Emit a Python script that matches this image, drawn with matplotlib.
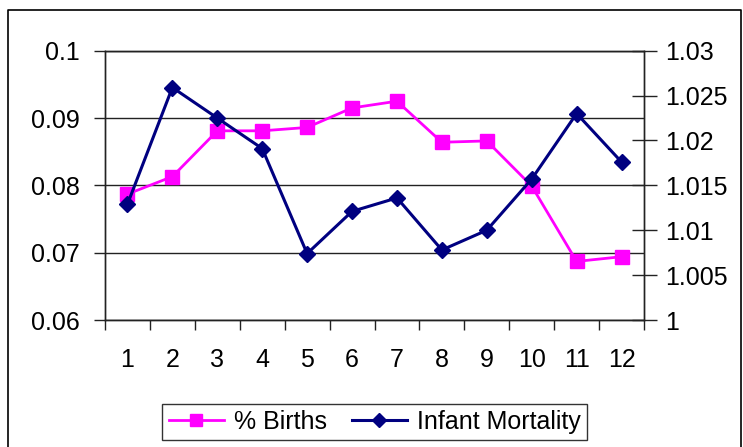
import matplotlib
matplotlib.use("Agg")
import matplotlib.pyplot as plt
from matplotlib.lines import Line2D

months = [1, 2, 3, 4, 5, 6, 7, 8, 9, 10, 11, 12]
births = [0.0787, 0.0813, 0.0881, 0.0881, 0.0886, 0.0915, 0.0925, 0.0864, 0.0866, 0.0799, 0.0687, 0.0694]
mortality = [1.0129, 1.0259, 1.0225, 1.0191, 1.0074, 1.0121, 1.0136, 1.0078, 1.0100, 1.0157, 1.0230, 1.0176]
left_ticks = [0.06, 0.07, 0.08, 0.09, 0.1]
left_labels = ["0.06", "0.07", "0.08", "0.09", "0.1"]
right_ticks = [1, 1.005, 1.01, 1.015, 1.02, 1.025, 1.03]
right_labels = ["1", "1.005", "1.01", "1.015", "1.02", "1.025", "1.03"]

plt.rcParams['font.family'] = ['Liberation Sans', 'DejaVu Sans']
fs = 18

fig = plt.figure(figsize=(7.43, 4.47), dpi=100)
ax = fig.add_axes([105 / 743, 1 - 320 / 447, 539 / 743, (320 - 50.7) / 447])
ax2 = ax.twinx()

ax.plot(months, births, color="#FF00FF", lw=2, marker="s", ms=10, mec="#FF00FF", label="% Births")
ax2.plot(months, mortality, color="#000080", lw=2.2, marker="D", ms=8.5, mec="#000080", label="Infant Mortality")

ax.set_xlim(0.5, 12.5)
ax.set_ylim(0.06, 0.1)
ax2.set_ylim(1, 1.03)

ax.set_yticks(left_ticks)
ax.set_yticklabels(left_labels, fontsize=fs)
ax2.set_yticks(right_ticks)
ax2.set_yticklabels(right_labels, fontsize=fs)

# category labels centered, ticks at boundaries
ax.set_xticks(months)
ax.set_xticklabels([str(m) for m in months], fontsize=fs)
ax.tick_params(axis="x", which="major", length=0, pad=20)
ax.set_xticks([m + 0.5 for m in [0] + months], minor=True)
ax.tick_params(axis="x", which="minor", length=7, width=1, direction="out", color="#222222")

ax.tick_params(axis="y", length=8, width=1, direction="out", pad=10, color="#222222")
ax2.tick_params(axis="y", length=18, width=1, direction="inout", pad=6, color="#222222")

ax.yaxis.grid(True, color="#222222", lw=1)
ax.set_axisbelow(True)
for s in ax.spines.values():
    s.set_color("#222222")
    s.set_linewidth(1)
for s in ax2.spines.values():
    s.set_color("#222222")
    s.set_linewidth(1)

h1, l1 = ax.get_legend_handles_labels()
h2, l2 = ax2.get_legend_handles_labels()
leg = fig.legend(h1 + h2, l1 + l2, loc="center", bbox_to_anchor=(374.5 / 743, 1 - 422 / 447),
                 ncol=2, fontsize=fs, frameon=True, fancybox=False, edgecolor="black",
                 markerscale=0.8, handlelength=2.2, columnspacing=1.0, handletextpad=0.4,
                 borderpad=0.25)
leg.get_frame().set_linewidth(1)

# outer chart border
fig.add_artist(Line2D([8 / 743, 8 / 743, 741 / 743, 741 / 743],
                      [0, 1 - 9.5 / 447, 1 - 9.5 / 447, 0],
                      transform=fig.transFigure, color="black", lw=1.2))

fig.savefig("out.png", dpi=100)
